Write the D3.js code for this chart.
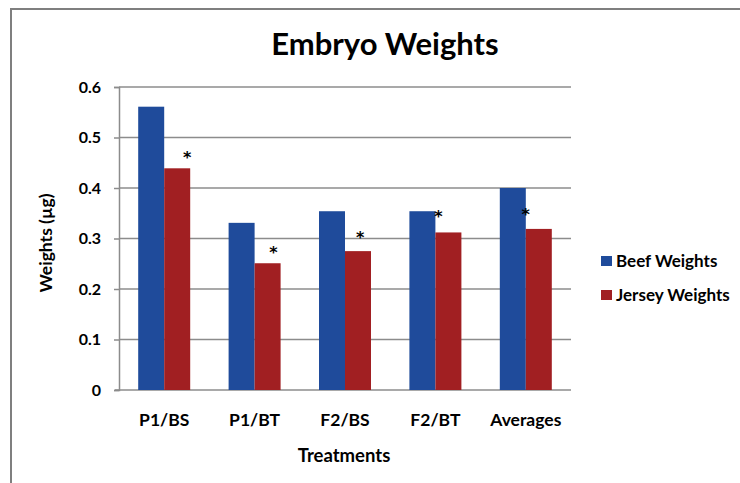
<!DOCTYPE html>
<html>
<head>
<meta charset="utf-8">
<script src="https://cdn.jsdelivr.net/npm/d3@7"></script>
<style>
  body { margin: 0; background: #fff; }
  text { font-family: Lato, "Open Sans", sans-serif; font-weight: bold; fill: #000; }
</style>
</head>
<body>
<div id="chart"></div>
<script>
// data
var treatments = ["P1/BS", "P1/BT", "F2/BS", "F2/BT", "Averages"];
var seriesNames = ["Beef Weights", "Jersey Weights"];
var beefWeights = [0.561, 0.331, 0.354, 0.354, 0.400];
var jerseyWeights = [0.439, 0.251, 0.275, 0.312, 0.319];
// where the significance stars sit, in weight units
var starLevels = [0.469, 0.281, 0.309, 0.352, 0.356];
var yTicks = [0, 0.1, 0.2, 0.3, 0.4, 0.5, 0.6];

var colors = ["#1f4b9b", "#a11f22"];

var width = 740, height = 483;
var margin = {top: 87, right: 169, bottom: 93, left: 119};
var innerW = width - margin.left - margin.right;
var innerH = height - margin.top - margin.bottom;

var svg = d3.select("#chart").append("svg")
    .attr("width", width)
    .attr("height", height);

// frame (only top and left edges show in the original crop)
svg.append("path")
    .attr("d", "M11," + height + "V9H" + width)
    .attr("fill", "none")
    .attr("stroke", "#7f7f7f")
    .attr("stroke-width", 2);

svg.append("text")
    .attr("x", 385)
    .attr("y", 55)
    .attr("text-anchor", "middle")
    .style("font-size", "31px")
    .text("Embryo Weights");

var g = svg.append("g")
    .attr("transform", "translate(" + margin.left + "," + margin.top + ")");

var x = d3.scaleBand()
    .domain(treatments)
    .range([0, innerW]);

var x1 = d3.scaleBand()
    .domain(seriesNames)
    .range([0, 52]);

var y = d3.scaleLinear()
    .domain([0, 0.6])
    .range([innerH, 0]);

// gridlines
g.append("g")
    .selectAll("line")
    .data(yTicks.slice(1))
    .enter().append("line")
    .attr("x1", 0)
    .attr("x2", innerW)
    .attr("y1", function(d) { return y(d); })
    .attr("y2", function(d) { return y(d); })
    .attr("stroke", "#8c8c8c")
    .attr("stroke-width", 1.5);

var yAxisCall = d3.axisLeft(y)
    .tickValues(yTicks)
    .tickFormat(function(d) { return d === 0 ? "0" : d3.format(".1f")(d); })
    .tickSize(5)
    .tickPadding(13);

var yAxis = g.append("g").call(yAxisCall);
yAxis.select(".domain").attr("stroke", "#8c8c8c").attr("stroke-width", 1.5);
yAxis.selectAll(".tick line").attr("stroke", "#8c8c8c").attr("stroke-width", 1.5);
yAxis.selectAll(".tick text").style("font-size", "16px").style("font-family", "Lato, sans-serif");

var xAxisCall = d3.axisBottom(x)
    .tickSize(0)
    .tickPadding(24);

var xAxis = g.append("g")
    .attr("transform", "translate(0," + innerH + ")")
    .call(xAxisCall);
xAxis.select(".domain").attr("stroke", "#8c8c8c").attr("stroke-width", 1.5)
    .attr("d", "M-4,0H" + innerW);
xAxis.selectAll(".tick text").style("font-size", "17.5px").style("font-family", "Lato, sans-serif");

// bars
var rows = treatments.map(function(t, i) {
    return {treatment: t, values: [beefWeights[i], jerseyWeights[i]], star: starLevels[i]};
});

var groups = g.selectAll(".group")
    .data(rows)
    .enter().append("g")
    .attr("class", "group")
    .attr("transform", function(d) {
        return "translate(" + (x(d.treatment) + (x.bandwidth() - 52) / 2) + ",0)";
    });

groups.selectAll("rect")
    .data(function(d) { return d.values.map(function(v, j) { return {name: seriesNames[j], value: v, j: j}; }); })
    .enter().append("rect")
    .attr("x", function(d) { return x1(d.name); })
    .attr("width", x1.bandwidth())
    .attr("y", function(d) { return y(d.value); })
    .attr("height", function(d) { return innerH - y(d.value); })
    .attr("fill", function(d) { return colors[d.j]; });

// stars were nudged by hand in the original, so follow that
var starShift = [0.88, 0.72, 0.58, 0.12, 0.0];
groups.append("text")
    .attr("x", function(d, i) { return x1("Jersey Weights") + starShift[i] * x1.bandwidth(); })
    .attr("y", function(d) { return y(d.star) + 9.5; })
    .attr("text-anchor", "middle")
    .style("font-family", "'DejaVu Sans', sans-serif")
    .style("font-size", "16px")
    .text("*");

// axis titles
svg.append("text")
    .attr("x", 344)
    .attr("y", 462)
    .attr("text-anchor", "middle")
    .style("font-size", "18.5px")
    .text("Treatments");

svg.append("text")
    .attr("transform", "translate(52,243) rotate(-90)")
    .attr("text-anchor", "middle")
    .style("font-size", "17.5px")
    .text("Weights (µg)");

// legend
var legend = svg.append("g")
    .attr("transform", "translate(601,256)");

var items = legend.selectAll(".item")
    .data(seriesNames)
    .enter().append("g")
    .attr("class", "item")
    .attr("transform", function(d, i) { return "translate(0," + (i * 34) + ")"; });

items.append("rect")
    .attr("width", 11)
    .attr("height", 10)
    .attr("fill", function(d, i) { return colors[i]; });

items.append("text")
    .attr("x", 15)
    .attr("y", 11)
    .style("font-size", "17px")
    .text(function(d) { return d; });
</script>
</body>
</html>
